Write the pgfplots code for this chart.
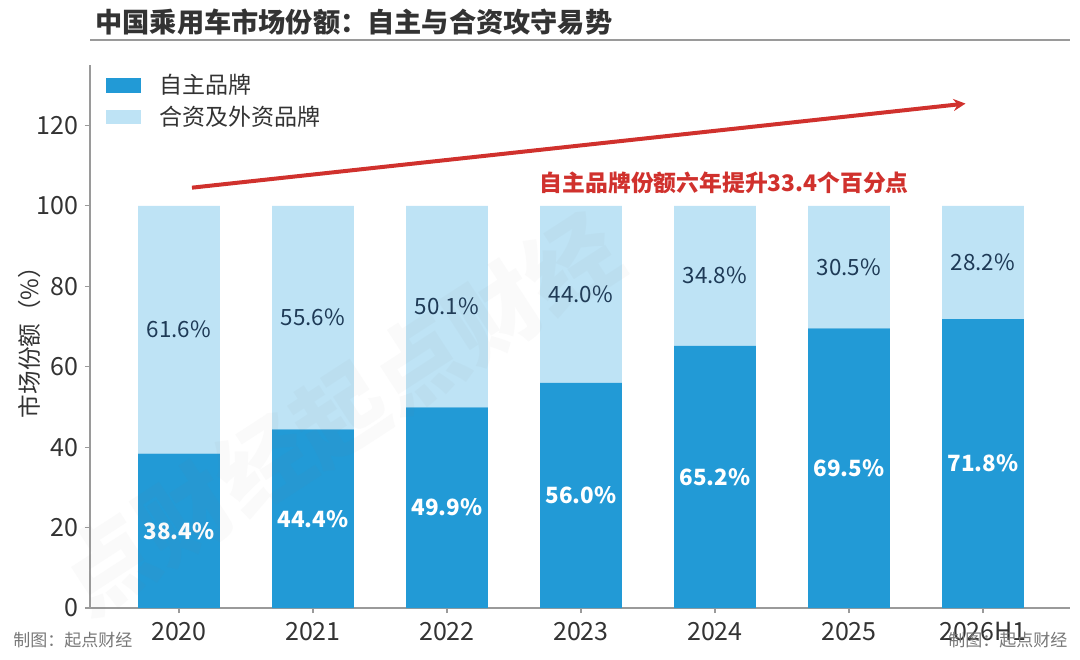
\documentclass[border=0pt]{standalone}
\usepackage{pgfplots}
\pgfplotsset{compat=1.18}
\usepackage{fontspec}
\setmainfont{Noto Sans CJK SC}
\usetikzlibrary{arrows.meta}
\definecolor{cdark}{HTML}{229AD6}
\definecolor{clight}{HTML}{BEE3F5}
\definecolor{cred}{HTML}{D0312D}
\definecolor{cnavy}{HTML}{1E3A56}
\definecolor{caxis}{HTML}{9A9A9A}
\definecolor{ctext}{HTML}{333333}
\definecolor{cfoot}{HTML}{777777}
\tikzset{
  lblw/.style={font=\fontsize{11.2}{13}\selectfont\bfseries, text=white},
  lbll/.style={font=\fontsize{11.2}{13}\selectfont, text=cnavy},
}
\begin{document}
\begin{tikzpicture}
\path[use as bounding box] (-45pt,-25.5pt) rectangle (495pt,304pt);
% title
\node[anchor=west, font=\fontsize{13.6}{16}\selectfont\bfseries, text=ctext, inner sep=0pt] at (2.5pt,293pt) {中国乘用车市场份额：自主与合资攻守易势};
\draw[caxis, line width=0.8pt] (0pt,284pt) -- (490pt,284pt);
\begin{axis}[
  at={(0pt,0pt)}, anchor=south west,
  scale only axis,
  width=490pt, height=271.5pt,
  xmin=-0.664, xmax=6.65,
  ymin=0, ymax=135,
  ybar stacked,
  bar width=0.61,
  axis x line*=bottom, axis y line*=left,
  axis line style={caxis, line width=0.6pt},
  every tick/.append style={caxis, line width=0.6pt},
  major tick length=2.5pt,
  tick align=outside,
  xtick={0,1,2,3,4,5,6},
  xticklabels={2020,2021,2022,2023,2024,2025,2026H1},
  ytick={0,20,40,60,80,100,120},
  /pgf/number format/assume math mode=true,
  tick label style={font=\fontsize{12.5}{14}\selectfont, text=ctext},
  xticklabel style={yshift=-1pt},
  ylabel={市场份额（\%）},
  ylabel style={font=\fontsize{11.8}{14}\selectfont, text=ctext, yshift=-9pt},
  legend style={draw=none, fill=none, at={(0.01,0.998)}, anchor=north west,
    font=\fontsize{11.5}{14}\selectfont, text=ctext, row sep=0.5pt,
    /tikz/every odd column/.append style={column sep=7pt}},
  legend cell align=left,
  legend image code/.code={\fill[#1] (0pt,-3.6pt) rectangle (17.5pt,3.6pt);},
  clip=false,
]
\addplot[fill=cdark, draw=none] coordinates {(0,38.4) (1,44.4) (2,49.9) (3,56.0) (4,65.2) (5,69.5) (6,71.8)};
\addplot[fill=clight, draw=none] coordinates {(0,61.6) (1,55.6) (2,50.1) (3,44.0) (4,34.8) (5,30.5) (6,28.2)};
\legend{自主品牌,合资及外资品牌}
\coordinate (a0) at (axis cs:0,19.2);
\coordinate (a1) at (axis cs:1,22.2);
\coordinate (a2) at (axis cs:2,24.95);
\coordinate (a3) at (axis cs:3,28.0);
\coordinate (a4) at (axis cs:4,32.6);
\coordinate (a5) at (axis cs:5,34.75);
\coordinate (a6) at (axis cs:6,35.9);
\coordinate (b0) at (axis cs:0,69.2);
\coordinate (b1) at (axis cs:1,72.2);
\coordinate (b2) at (axis cs:2,74.95);
\coordinate (b3) at (axis cs:3,78.0);
\coordinate (b4) at (axis cs:4,82.6);
\coordinate (b5) at (axis cs:5,84.75);
\coordinate (b6) at (axis cs:6,85.9);
\draw[cred, line width=2pt, -{Stealth[length=6pt,width=6pt]}] (axis cs:0.097,104.5) -- (axis cs:5.87,125.4);
\node[font=\fontsize{11.4}{13}\selectfont\bfseries, text=cred] at (axis cs:4.07,105.8) {自主品牌份额六年提升33.4个百分点};
\end{axis}
\node[lblw] at (a0) {38.4\%};
\node[lblw] at (a1) {44.4\%};
\node[lblw] at (a2) {49.9\%};
\node[lblw] at (a3) {56.0\%};
\node[lblw] at (a4) {65.2\%};
\node[lblw] at (a5) {69.5\%};
\node[lblw] at (a6) {71.8\%};
\node[lbll] at (b0) {61.6\%};
\node[lbll] at (b1) {55.6\%};
\node[lbll] at (b2) {50.1\%};
\node[lbll] at (b3) {44.0\%};
\node[lbll] at (b4) {34.8\%};
\node[lbll] at (b5) {30.5\%};
\node[lbll] at (b6) {28.2\%};
% watermark
\node[rotate=33, font=\fontsize{46}{50}\selectfont\bfseries, text=gray, opacity=0.045] at (125pt,97pt) {点财经起点财经};
% footer
\node[anchor=west, font=\fontsize{8.5}{10}\selectfont, text=cfoot, inner sep=0pt] at (-38.5pt,-16pt) {制图：起点财经};
\node[anchor=west, font=\fontsize{8.5}{10}\selectfont, text=cfoot, inner sep=0pt] at (429pt,-16pt) {制图：起点财经};
\end{tikzpicture}
\end{document}
